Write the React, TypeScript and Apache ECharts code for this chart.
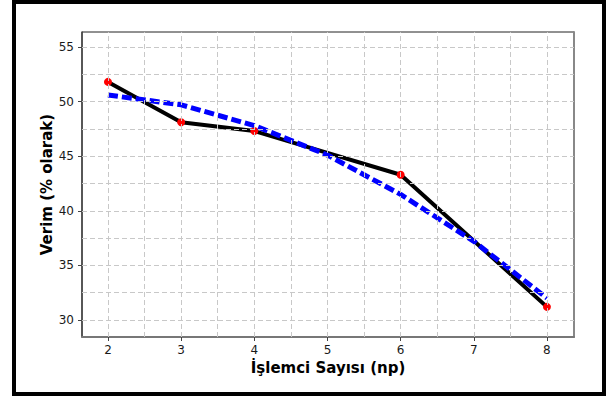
import React, { useEffect, useRef } from "react";
import * as echarts from "echarts";

const xTicks = [2, 3, 4, 5, 6, 7, 8];
const yTicks = [30, 35, 40, 45, 50, 55];
const xGrid = [2, 2.5, 3, 3.5, 4, 4.5, 5, 5.5, 6, 6.5, 7, 7.5, 8];
const yGrid = [30, 32.5, 35, 37.5, 40, 42.5, 45, 47.5, 50, 52.5, 55];

const measuredX = [2, 3, 4, 6, 8];
const measuredY = [51.8, 48.1, 47.3, 43.3, 31.2];

const modelX = [2, 3, 4, 5, 6, 7, 8];
const modelY = [50.6, 49.7, 47.8, 45.1, 41.5, 37.2, 32.0];

const xName = "İşlemci Sayısı (np)";
const yName = "Verim (% olarak)";

const FONT = "DejaVu Sans";

export default function App() {
  const ref = useRef<HTMLDivElement>(null);

  useEffect(() => {
    if (!ref.current) return;
    const chart = echarts.init(ref.current, undefined, { renderer: "svg" });
    const measured = measuredX.map((x, i) => [x, measuredY[i]]);
    const model = modelX.map((x, i) => [x, modelY[i]]);
    const gridLineStyle = { color: "#c8c8c8", type: [5, 3] as any, width: 1 };

    chart.setOption({
      animation: false,
      backgroundColor: "#ffffff",
      grid: {
        left: 82,
        right: 34,
        top: 32,
        bottom: 59,
        show: true,
        borderColor: "#222",
        borderWidth: 1,
        backgroundColor: "transparent",
      },
      graphic: [
        {
          type: "rect",
          shape: { x: 14, y: 2, width: 590, height: 392 },
          style: { fill: "none", stroke: "#000", lineWidth: 4 },
          silent: true,
        },
      ],
      xAxis: {
        type: "value",
        min: 1.645,
        max: 8.37,
        name: xName,
        nameLocation: "middle",
        nameGap: 23,
        nameMoveOverlap: false,
        nameTextStyle: { fontFamily: FONT, fontWeight: "bold", fontSize: 15, color: "#000" },
        axisLine: { show: true, lineStyle: { color: "#777", width: 2 } },
        axisTick: { show: true, length: 4, customValues: xTicks, lineStyle: { color: "#444" } },
        axisLabel: { customValues: xTicks, fontFamily: FONT, fontSize: 12, color: "#1a1a1a", margin: 7 },
        splitLine: { show: false },
      },
      yAxis: [
        {
          type: "value",
          min: 28.44,
          max: 56.37,
          name: yName,
          nameLocation: "middle",
          nameGap: 28,
          nameMoveOverlap: false,
          nameRotate: 90,
          nameTextStyle: { fontFamily: FONT, fontWeight: "bold", fontSize: 15, color: "#000" },
          axisLine: { show: true, lineStyle: { color: "#444", width: 1.5 } },
          axisTick: { show: true, length: 4, customValues: yTicks, lineStyle: { color: "#444" } },
          axisLabel: { customValues: yTicks, fontFamily: FONT, fontSize: 12, color: "#1a1a1a", margin: 8 },
          splitLine: { show: false },
        },
        {
          type: "value",
          min: 28.44,
          max: 56.37,
          position: "right",
          axisLine: { show: true, lineStyle: { color: "#888", width: 2 } },
          axisTick: { show: false },
          axisLabel: { show: false },
          splitLine: { show: false },
        },
      ],
      series: [
        {
          type: "line",
          data: [],
          silent: true,
          z: 1,
          markLine: {
            silent: true,
            symbol: "none",
            label: { show: false },
            lineStyle: gridLineStyle,
            data: [
              ...xGrid.map((v) => ({ xAxis: v })),
              ...yGrid.map((v) => ({ yAxis: v })),
            ],
          },
        },
        {
          type: "line",
          data: measured,
          z: 2,
          showSymbol: true,
          symbol: "circle",
          symbolSize: 8,
          itemStyle: { color: "#ff0000", borderWidth: 0 },
          lineStyle: { color: "#000", width: 4 },
        },
        {
          type: "line",
          data: model,
          z: 3,
          showSymbol: false,
          lineStyle: { color: "#0000ff", width: 5, type: [10, 4] as any, cap: "butt" },
        },
      ],
    });
    return () => chart.dispose();
  }, []);

  return (
    <div style={{ position: "fixed", left: 0, top: 0, width: 608, height: 396, background: "#fff" }}>
      <div ref={ref} style={{ width: 608, height: 396 }} />
    </div>
  );
}
